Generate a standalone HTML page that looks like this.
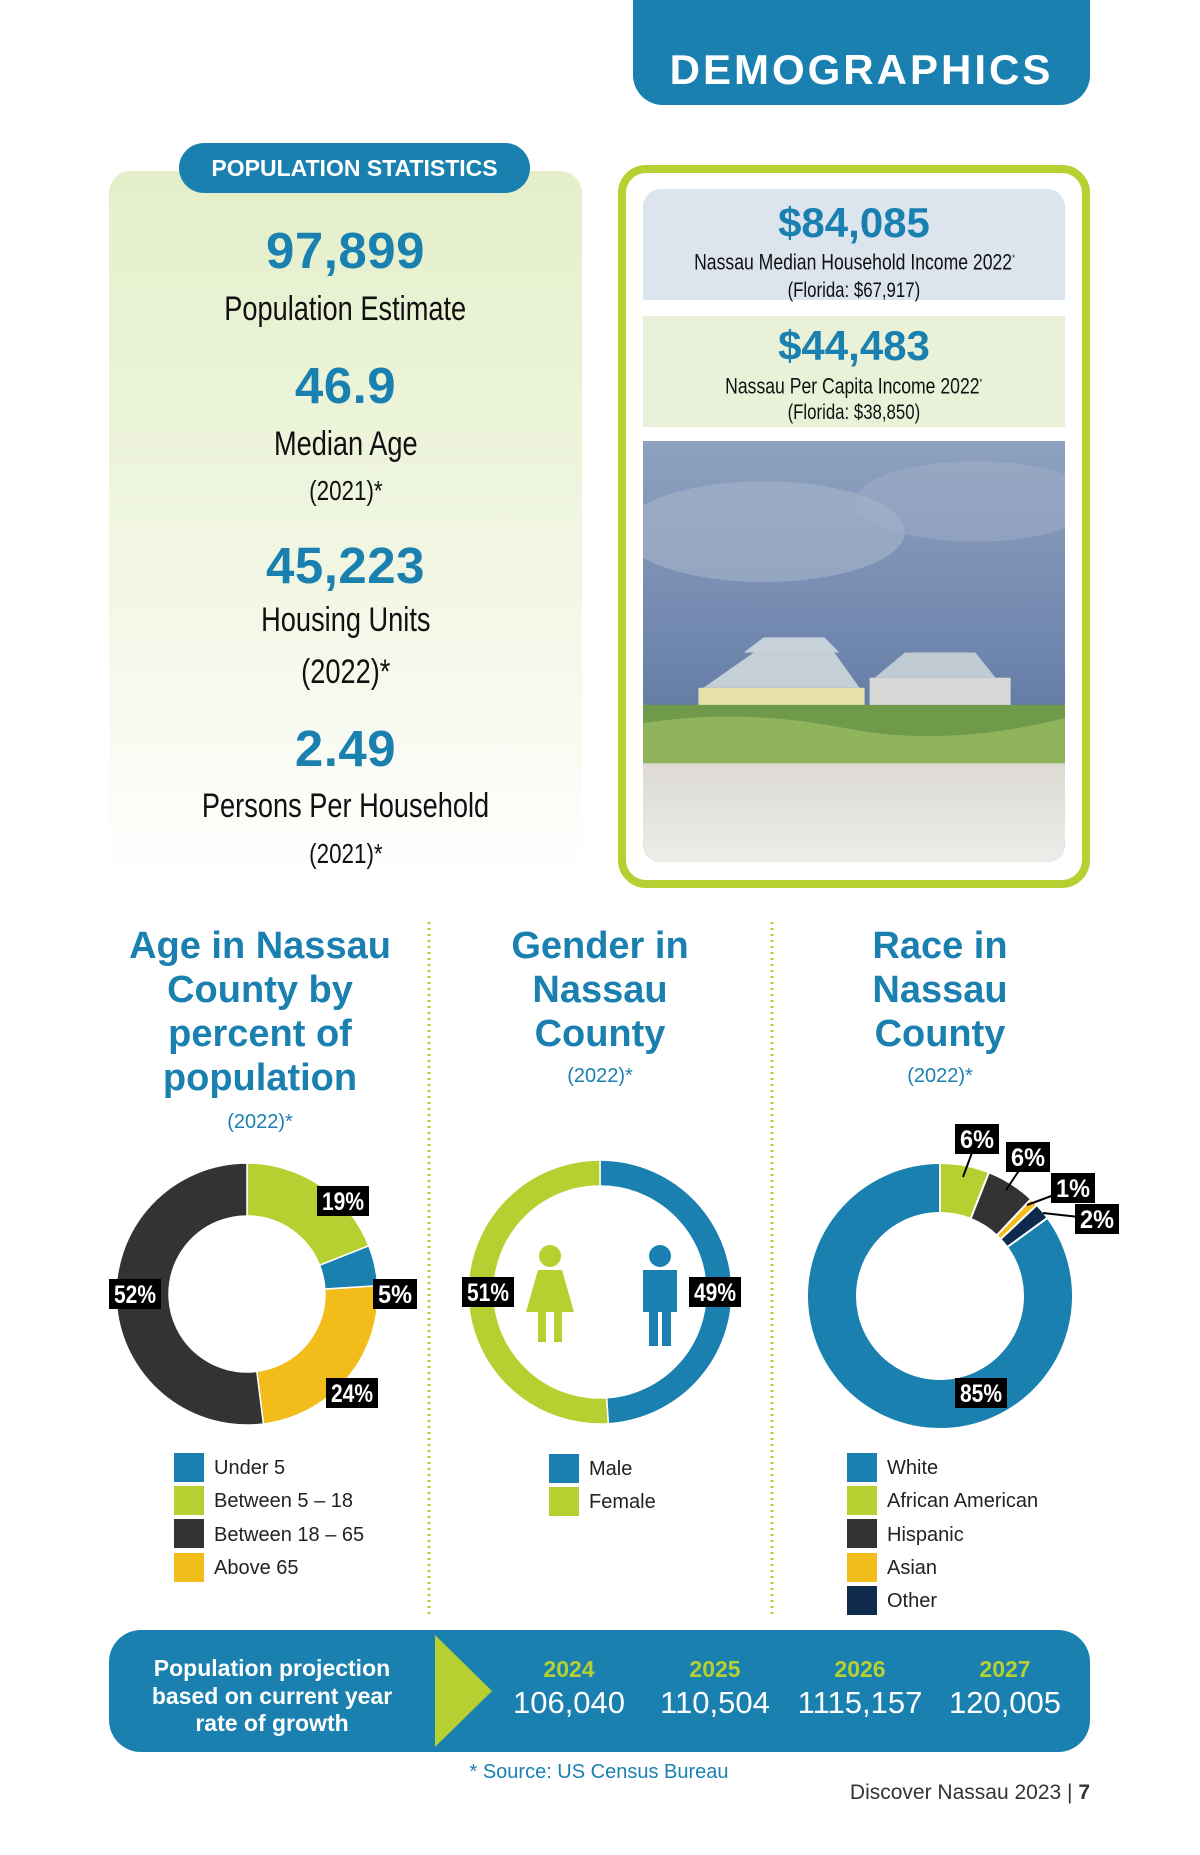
<!DOCTYPE html>
<html><head><meta charset="utf-8">
<style>
*{margin:0;padding:0;box-sizing:border-box}
body{width:1200px;height:1855px;background:#fff;position:relative;overflow:hidden;font-family:"Liberation Sans",sans-serif}
.abs{position:absolute}
.c{display:inline-block;transform:scaleX(.8);transform-origin:center;white-space:nowrap}
.num,.lab,.sub{position:absolute;text-align:center;width:473px;left:109px;height:60px;line-height:60px}
.num{font-weight:bold;color:#1a80b0;font-size:51px;letter-spacing:0.5px}
.lab{color:#111;font-size:34px}
.sub{color:#111;font-size:28px}
.ttl{font-weight:bold;color:#1a80b0;font-size:38px;text-align:center;line-height:44px}
.yr{font-size:20px;color:#1a80b0;text-align:center;width:320px}
.leg{font-size:20px;color:#222;line-height:33.3px}
.leg i{display:inline-block;width:30px;height:29px;vertical-align:middle;margin-right:10px;margin-top:-3px}
</style></head><body>
<div class="abs" style="left:633px;top:0;width:457px;height:105px;background:#1a80b0;border-radius:0 0 30px 30px;color:#fff;font-weight:bold;font-size:42px;text-align:center;line-height:42px;letter-spacing:3px"><div style="padding-top:49px">DEMOGRAPHICS</div></div>

<div class="abs" style="left:109px;top:171px;width:473px;height:707px;border-radius:22px;background:linear-gradient(#e4efc9,#f2f7e5 60%,#fff)"></div>
<div class="abs" style="left:179px;top:143px;width:351px;height:50px;background:#1a80b0;border-radius:25px;color:#fff;font-weight:bold;font-size:23px;text-align:center;line-height:50px">POPULATION STATISTICS</div>

<div class="num" style="top:221px">97,899</div>
<div class="lab" style="top:279px"><span class="c">Population Estimate</span></div>
<div class="num" style="top:356px">46.9</div>
<div class="lab" style="top:414px"><span class="c">Median Age</span></div>
<div class="sub" style="top:461px"><span class="c">(2021)*</span></div>
<div class="num" style="top:536px">45,223</div>
<div class="lab" style="top:590px"><span class="c">Housing Units</span></div>
<div class="lab" style="top:642px"><span class="c">(2022)*</span></div>
<div class="num" style="top:719px">2.49</div>
<div class="lab" style="top:776px"><span class="c">Persons Per Household</span></div>
<div class="sub" style="top:824px"><span class="c">(2021)*</span></div>

<div class="abs" style="left:618px;top:165px;width:472px;height:723px;border:8px solid #b5d030;border-radius:28px"></div>
<div class="abs" style="left:643px;top:189px;width:422px;height:111px;background:#dce4ee;border-radius:18px 18px 0 0;text-align:center">
 <div style="font-weight:bold;color:#1a80b0;font-size:42px;line-height:46px;margin-top:11px">$84,085</div>
 <div style="font-size:22px;color:#111;line-height:24px"><span class="c">Nassau Median Household Income 2022<sup style="font-size:9px">*</sup></span></div>
 <div style="font-size:21px;color:#111;line-height:34px"><span class="c">(Florida: $67,917)</span></div>
</div>
<div class="abs" style="left:643px;top:316px;width:422px;height:111px;background:#e9f2d8;text-align:center">
 <div style="font-weight:bold;color:#1a80b0;font-size:42px;line-height:46px;margin-top:7px">$44,483</div>
 <div style="font-size:22px;color:#111;line-height:26px"><span class="c">Nassau Per Capita Income 2022<sup style="font-size:9px">*</sup></span></div>
 <div style="font-size:21px;color:#111;line-height:28px"><span class="c">(Florida: $38,850)</span></div>
</div>
<svg class="abs" style="left:643px;top:441px" width="422" height="421" viewBox="0 0 419 418" preserveAspectRatio="none">
 <defs><clipPath id="cp"><path d="M0 0H419V398Q419 418 399 418H20Q0 418 0 398Z"/></clipPath>
 <linearGradient id="sky" x1="0" y1="0" x2="0" y2="1"><stop offset="0" stop-color="#8ea1c0"/><stop offset="0.5" stop-color="#6f86ad"/><stop offset="0.7" stop-color="#5f78a0"/></linearGradient>
 <linearGradient id="sand" x1="0" y1="0" x2="0" y2="1"><stop offset="0" stop-color="#dcdad3"/><stop offset="1" stop-color="#eeece8"/></linearGradient></defs>
 <g clip-path="url(#cp)">
 <rect width="419" height="418" fill="url(#sky)"/>
 <ellipse cx="120" cy="90" rx="140" ry="50" fill="#a6b5cc" opacity="0.6"/>
 <ellipse cx="330" cy="60" rx="120" ry="40" fill="#9fb0c8" opacity="0.5"/>
 <polygon points="60,245 110,210 190,210 215,245" fill="#c4cfd8"/>
 <rect x="55" y="245" width="165" height="45" fill="#e8e0a8"/>
 <polygon points="100,210 120,195 180,195 195,210" fill="#c8d2da"/>
 <polygon points="230,235 260,210 330,210 350,235" fill="#c0cad3"/>
 <rect x="225" y="235" width="140" height="55" fill="#d6d8d6"/>
 <rect x="0" y="262" width="419" height="50" fill="#6f9a4a"/>
 <path d="M0 280Q100 265 200 285T419 275V330H0Z" fill="#8fb45c"/>
 <rect x="0" y="320" width="419" height="98" fill="url(#sand)"/>
 </g>
</svg>

<svg class="abs" style="left:0;top:0" width="1200" height="1855">
 <line x1="429" y1="922" x2="429" y2="1618" stroke="#b5d030" stroke-width="3" stroke-dasharray="2 4"/>
 <line x1="772" y1="922" x2="772" y2="1618" stroke="#b5d030" stroke-width="3" stroke-dasharray="2 4"/>
</svg>

<div class="abs ttl" style="left:95px;top:924px;width:330px">Age in Nassau County by percent of population</div>
<div class="abs yr" style="left:100px;top:1111px">(2022)*</div>
<div class="abs ttl" style="left:475px;top:924px;width:250px">Gender in Nassau County</div>
<div class="abs yr" style="left:440px;top:1065px">(2022)*</div>
<div class="abs ttl" style="left:815px;top:924px;width:250px">Race in Nassau County</div>
<div class="abs yr" style="left:780px;top:1065px">(2022)*</div>

<svg id="charts" class="abs" style="left:0;top:0" width="1200" height="1855"></svg>

<div class="abs leg" style="left:174px;top:1452px">
 <div><i style="background:#1a80b0"></i>Under 5</div><div><i style="background:#b5d030"></i>Between 5 – 18</div><div><i style="background:#333"></i>Between 18 – 65</div><div><i style="background:#f2bc1a"></i>Above 65</div>
</div>
<div class="abs leg" style="left:549px;top:1453px">
 <div><i style="background:#1a80b0"></i>Male</div><div><i style="background:#b5d030"></i>Female</div>
</div>
<div class="abs leg" style="left:847px;top:1452px">
 <div><i style="background:#1a80b0"></i>White</div><div><i style="background:#b5d030"></i>African American</div><div><i style="background:#333"></i>Hispanic</div><div><i style="background:#f2bc1a"></i>Asian</div><div><i style="background:#0e2b4e"></i>Other</div>
</div>

<div class="abs" style="left:109px;top:1630px;width:981px;height:122px;background:#1a80b0;border-radius:32px"></div>
<svg class="abs" style="left:435px;top:1635px" width="57" height="112"><polygon points="0,0 57,56 0,112" fill="#b5d030"/></svg>
<div class="abs" style="left:122px;top:1655px;width:300px;text-align:center;color:#fff;font-weight:bold;font-size:23px;line-height:27.5px">Population projection<br>based on current year<br>rate of growth</div>
<div class="abs" id="proj" style="left:0;top:0"></div>

<div class="abs" style="left:399px;top:1761px;width:400px;text-align:center;color:#1a80b0;font-size:20px">* Source: US Census Bureau</div>
<div class="abs" style="left:790px;top:1781px;width:300px;text-align:right;color:#333;font-size:21px">Discover Nassau 2023 | <b>7</b></div>

<script>
const ageCats=["Between 5 – 18","Under 5","Above 65","Between 18 – 65"];
const ageVals=[19,5,24,52];
const genderCats=["Male","Female"];
const genderVals=[49,51];
const raceCats=["African American","Hispanic","Asian","Other","White"];
const raceVals=[6,6,1,2,85];
const projYears=["2024","2025","2026","2027"];
const projValues=["106,040","110,504","1115,157","120,005"];

const NS="http://www.w3.org/2000/svg";
const svg=document.getElementById('charts');
function pt(cx,cy,r,f){const a=f*2*Math.PI-Math.PI/2;return [cx+r*Math.cos(a),cy+r*Math.sin(a)];}
function donut(name,cx,cy,ro,ri,vals,cols,gap){
  const tot=vals.reduce((a,b)=>a+b,0);let acc=0;
  vals.forEach((v,i)=>{
    const f0=acc/tot,f1=(acc+v)/tot;acc+=v;
    const p0=pt(cx,cy,ro,f0),p1=pt(cx,cy,ro,f1),q1=pt(cx,cy,ri,f1),q0=pt(cx,cy,ri,f0);
    const lg=(f1-f0)>0.5?1:0;
    const p=document.createElementNS(NS,'path');
    p.setAttribute('d',`M${p0[0]},${p0[1]}A${ro},${ro} 0 ${lg} 1 ${p1[0]},${p1[1]}L${q1[0]},${q1[1]}A${ri},${ri} 0 ${lg} 0 ${q0[0]},${q0[1]}Z`);
    p.setAttribute('fill',cols[i]);p.setAttribute('stroke','#fff');p.setAttribute('stroke-width',gap);
    
    
    svg.appendChild(p);
  });
}
function label(name,x,y,txt,lx,ly){
  if(lx!==undefined){const l=document.createElementNS(NS,'line');l.setAttribute('x1',x);l.setAttribute('y1',y);l.setAttribute('x2',lx);l.setAttribute('y2',ly);l.setAttribute('stroke','#000');l.setAttribute('stroke-width','2');
  
  
  svg.appendChild(l);}
  const w=txt.length>2?52:44;
  const r=document.createElementNS(NS,'rect');r.setAttribute('x',x-w/2);r.setAttribute('y',y-15);r.setAttribute('width',w);r.setAttribute('height',30);r.setAttribute('fill','#000');
  
  
  svg.appendChild(r);
  const t=document.createElementNS(NS,'text');t.setAttribute('x',x);t.setAttribute('y',y+9);t.setAttribute('text-anchor','middle');t.setAttribute('fill','#fff');t.setAttribute('font-size','25');t.setAttribute('font-weight','bold');t.setAttribute('font-family','Liberation Sans, sans-serif');t.setAttribute('textLength',w-10);t.setAttribute('lengthAdjust','spacingAndGlyphs');t.textContent=txt;
  
  
  svg.appendChild(t);
}
donut('age',247,1294,131,78,ageVals,['#b5d030','#1a80b0','#f2bc1a','#333'],1.5);
label('age-label-19',343,1201,ageVals[0]+'%');
label('age-label-5',395,1294,ageVals[1]+'%');
label('age-label-24',352,1393,ageVals[2]+'%');
label('age-label-52',135,1294,ageVals[3]+'%');
donut('gender',600,1292,132,106,genderVals,['#1a80b0','#b5d030'],1.5);
label('gender-label-51',488,1292,genderVals[1]+'%');
label('gender-label-49',715,1292,genderVals[0]+'%');
donut('race',940,1296,133,83,raceVals,['#b5d030','#333','#f2bc1a','#0e2b4e','#1a80b0'],2);
label('race-label-6a',977,1139,raceVals[0]+'%',963,1177);
label('race-label-6b',1028,1157,raceVals[1]+'%',1006,1190);
label('race-label-1',1073,1188,raceVals[2]+'%',1027,1205);
label('race-label-2',1097,1219,raceVals[3]+'%',1043,1213);
label('race-label-85',981,1393,raceVals[4]+'%');
function person(name,cx,col,female){
  const g=document.createElementNS(NS,'g');g.setAttribute('fill',col);
  
  
  const h=document.createElementNS(NS,'circle');h.setAttribute('cx',cx);h.setAttribute('cy',1256);h.setAttribute('r',11);g.appendChild(h);
  const b=document.createElementNS(NS,'path');
  if(female)b.setAttribute('d',`M${cx-12},1270h24l12,42h-12v30h-8v-30h-8v30h-8v-30h-12z`);
  else b.setAttribute('d',`M${cx-17},1270h34v42h-6v34h-9v-34h-4v34h-9v-34h-6z`);
  g.appendChild(b);svg.appendChild(g);
}
person('female-icon',550,'#b5d030',true);
person('male-icon',660,'#1a80b0',false);
const proj=document.getElementById('proj');
const px=[569,715,860,1005];
projYears.forEach((y,i)=>{
  const d=document.createElement('div');d.className='abs';
  d.style.cssText=`left:${px[i]-85}px;top:1655px;width:170px;text-align:center`;
  
  
  d.innerHTML=`<div style="color:#b5d030;font-weight:bold;font-size:23px;line-height:28px">${y}</div><div style="color:#fff;font-size:31px;line-height:40px">${projValues[i]}</div>`;
  proj.appendChild(d);
});
</script>
</body></html>
